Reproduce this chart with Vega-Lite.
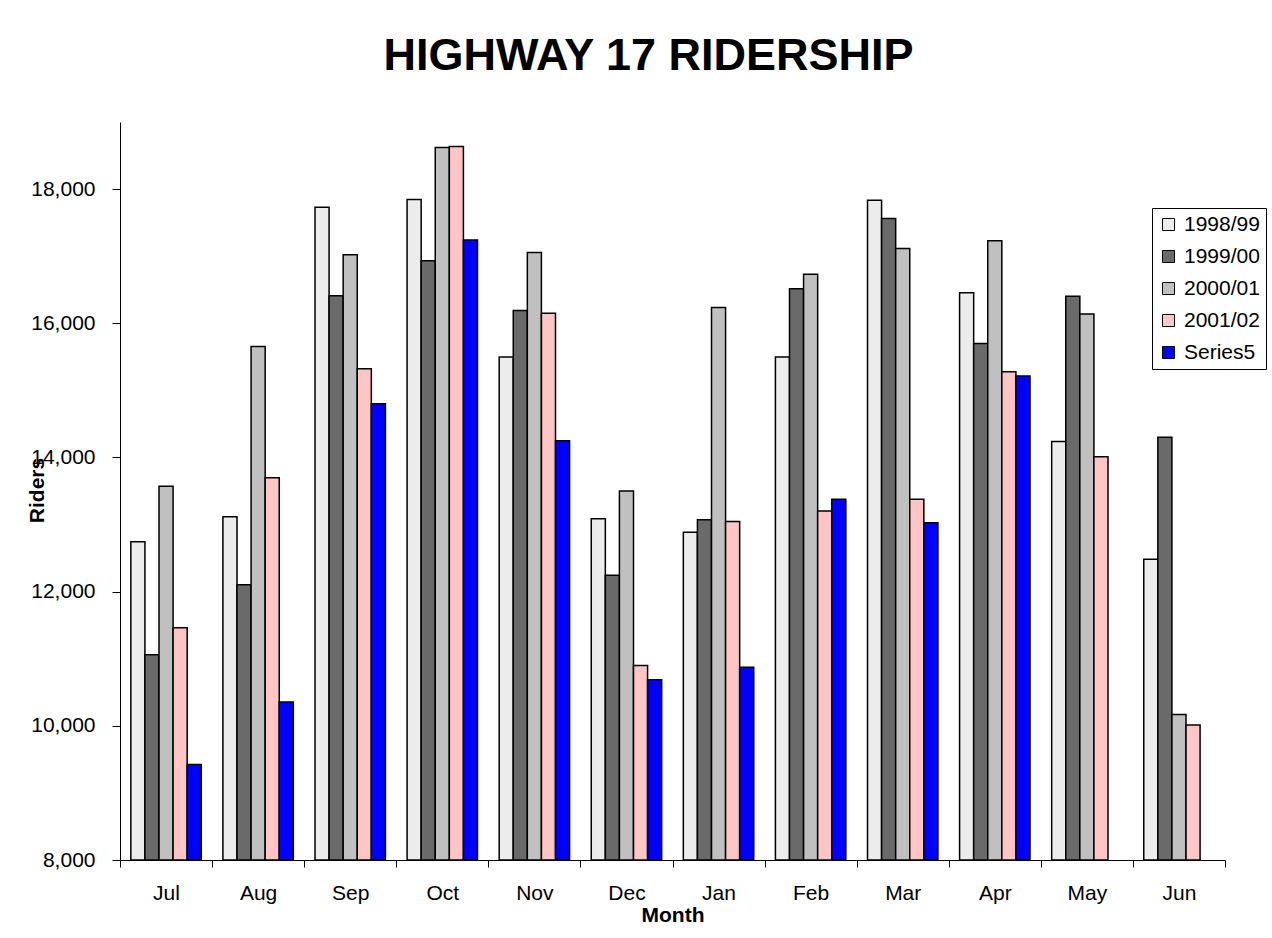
{
  "$schema": "https://vega.github.io/schema/vega-lite/v6.json",
  "autosize": {"type": "none"},
  "width": 1105,
  "height": 738,
  "padding": {"left": 120, "top": 122, "right": 47, "bottom": 78},
  "background": "white",
  "config": {"view": {"stroke": null}, "font": "Liberation Sans"},
  "title": {"text": "HIGHWAY 17 RIDERSHIP", "fontSize": 45, "font": "Liberation Sans", "fontWeight": "bold", "anchor": "middle", "frame": "group", "dx": -24, "offset": 7, "baseline": "alphabetic", "color": "black"},
  "data": {"values": [
    {"month": "Jul", "series": "1998/99", "riders": 12742},
    {"month": "Jul", "series": "1999/00", "riders": 11061},
    {"month": "Jul", "series": "2000/01", "riders": 13570},
    {"month": "Jul", "series": "2001/02", "riders": 11462},
    {"month": "Jul", "series": "Series5", "riders": 9425},
    {"month": "Aug", "series": "1998/99", "riders": 13117},
    {"month": "Aug", "series": "1999/00", "riders": 12102},
    {"month": "Aug", "series": "2000/01", "riders": 15652},
    {"month": "Aug", "series": "2001/02", "riders": 13699},
    {"month": "Aug", "series": "Series5", "riders": 10356},
    {"month": "Sep", "series": "1998/99", "riders": 17728},
    {"month": "Sep", "series": "1999/00", "riders": 16409},
    {"month": "Sep", "series": "2000/01", "riders": 17023},
    {"month": "Sep", "series": "2001/02", "riders": 15323},
    {"month": "Sep", "series": "Series5", "riders": 14799},
    {"month": "Oct", "series": "1998/99", "riders": 17845},
    {"month": "Oct", "series": "1999/00", "riders": 16933},
    {"month": "Oct", "series": "2000/01", "riders": 18621},
    {"month": "Oct", "series": "2001/02", "riders": 18634},
    {"month": "Oct", "series": "Series5", "riders": 17243},
    {"month": "Nov", "series": "1998/99", "riders": 15497},
    {"month": "Nov", "series": "1999/00", "riders": 16189},
    {"month": "Nov", "series": "2000/01", "riders": 17056},
    {"month": "Nov", "series": "2001/02", "riders": 16150},
    {"month": "Nov", "series": "Series5", "riders": 14249},
    {"month": "Dec", "series": "1998/99", "riders": 13085},
    {"month": "Dec", "series": "1999/00", "riders": 12244},
    {"month": "Dec", "series": "2000/01", "riders": 13499},
    {"month": "Dec", "series": "2001/02", "riders": 10899},
    {"month": "Dec", "series": "Series5", "riders": 10686},
    {"month": "Jan", "series": "1998/99", "riders": 12885},
    {"month": "Jan", "series": "1999/00", "riders": 13072},
    {"month": "Jan", "series": "2000/01", "riders": 16235},
    {"month": "Jan", "series": "2001/02", "riders": 13046},
    {"month": "Jan", "series": "Series5", "riders": 10873},
    {"month": "Feb", "series": "1998/99", "riders": 15497},
    {"month": "Feb", "series": "1999/00", "riders": 16513},
    {"month": "Feb", "series": "2000/01", "riders": 16732},
    {"month": "Feb", "series": "2001/02", "riders": 13201},
    {"month": "Feb", "series": "Series5", "riders": 13376},
    {"month": "Mar", "series": "1998/99", "riders": 17832},
    {"month": "Mar", "series": "1999/00", "riders": 17560},
    {"month": "Mar", "series": "2000/01", "riders": 17114},
    {"month": "Mar", "series": "2001/02", "riders": 13376},
    {"month": "Mar", "series": "Series5", "riders": 13027},
    {"month": "Apr", "series": "1998/99", "riders": 16454},
    {"month": "Apr", "series": "1999/00", "riders": 15698},
    {"month": "Apr", "series": "2000/01", "riders": 17230},
    {"month": "Apr", "series": "2001/02", "riders": 15277},
    {"month": "Apr", "series": "Series5", "riders": 15213},
    {"month": "May", "series": "1998/99", "riders": 14236},
    {"month": "May", "series": "1999/00", "riders": 16403},
    {"month": "May", "series": "2000/01", "riders": 16138},
    {"month": "May", "series": "2001/02", "riders": 14010},
    {"month": "Jun", "series": "1998/99", "riders": 12484},
    {"month": "Jun", "series": "1999/00", "riders": 14301},
    {"month": "Jun", "series": "2000/01", "riders": 10168},
    {"month": "Jun", "series": "2001/02", "riders": 10013}
  ]},
  "mark": {"type": "bar", "stroke": "black", "strokeWidth": 1.5},
  "encoding": {
    "x": {
      "field": "month", "type": "nominal",
      "sort": ["Jul", "Aug", "Sep", "Oct", "Nov", "Dec", "Jan", "Feb", "Mar", "Apr", "May", "Jun"],
      "scale": {"paddingInner": 0, "paddingOuter": 0},
      "axis": {"title": "Month", "labelAngle": 0, "tickBand": "extent", "tickSize": 7, "tickColor": "black", "tickWidth": 1, "domainColor": "black", "domainWidth": 1, "labelFontSize": 21, "labelColor": "black", "labelFont": "Liberation Sans", "labelPadding": 15, "titleFontSize": 21, "titleFontWeight": "bold", "titleColor": "black", "titleFont": "Liberation Sans", "titlePadding": 1}
    },
    "xOffset": {
      "field": "series", "type": "nominal",
      "scale": {"domain": ["1998/99", "1999/00", "2000/01", "2001/02", "Series5"], "paddingInner": 0, "paddingOuter": 0.77}
    },
    "y": {
      "field": "riders", "type": "quantitative", "stack": null,
      "scale": {"domain": [8000, 19000], "nice": false, "zero": false},
      "axis": {"title": "Riders", "values": [8000, 10000, 12000, 14000, 16000, 18000], "format": ",d", "grid": false, "labelFontSize": 21, "labelColor": "black", "labelFont": "Liberation Sans", "labelPadding": 17, "tickSize": 8, "tickColor": "black", "domainColor": "black", "titleFontSize": 21, "titleFontWeight": "bold", "titleColor": "black", "titleFont": "Liberation Sans", "titleX": -77, "titleY": 368, "titleAngle": 270, "titleAlign": "center", "titleBaseline": "alphabetic"}
    },
    "color": {
      "field": "series", "type": "nominal",
      "scale": {"domain": ["1998/99", "1999/00", "2000/01", "2001/02", "Series5"], "range": ["#ececec", "#6a6a6a", "#c0c0c0", "#ffc4c4", "#0000ff"]},
      "legend": {"title": null, "orient": "none", "legendX": 1032, "legendY": 86, "strokeColor": "black", "padding": 6, "fillColor": "white", "symbolType": "square", "symbolSize": 144, "symbolStrokeColor": "black", "symbolStrokeWidth": 1, "symbolOpacity": 1, "labelFontSize": 21, "labelColor": "black", "labelFont": "Liberation Sans", "labelOffset": 5, "rowPadding": 10}
    }
  }
}
